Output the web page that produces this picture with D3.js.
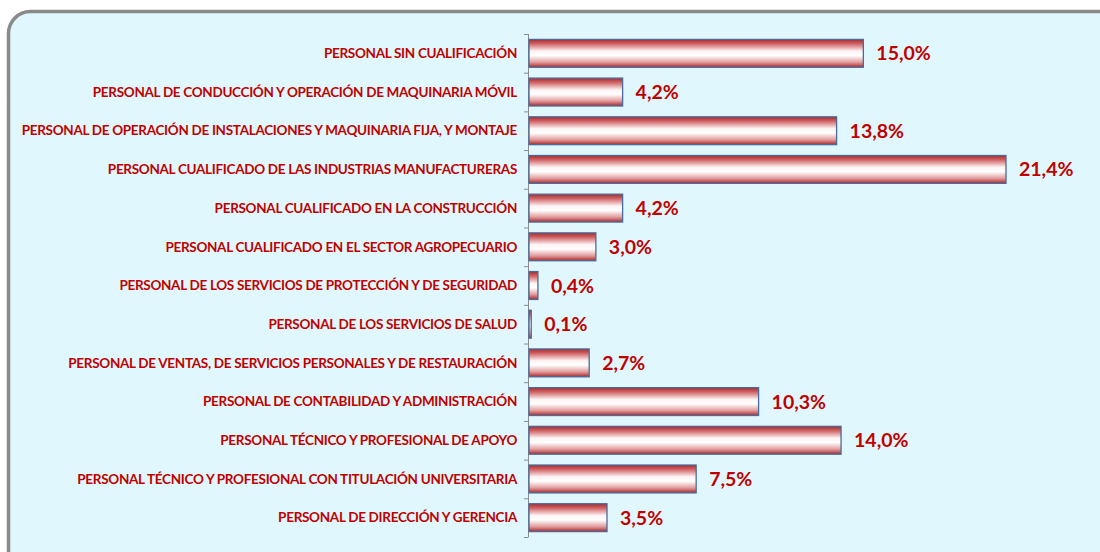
<!DOCTYPE html>
<html>
<head>
<meta charset="utf-8">
<script src="https://cdn.jsdelivr.net/npm/d3@7"></script>
<style>
  html, body { margin: 0; padding: 0; background: #fff; }
  svg { display: block; }
</style>
</head>
<body>
<svg id="chart" width="1100" height="552"></svg>
<script>
const categories = [
    'PERSONAL SIN CUALIFICACIÓN',
    'PERSONAL DE CONDUCCIÓN Y OPERACIÓN DE MAQUINARIA MÓVIL',
    'PERSONAL DE OPERACIÓN DE INSTALACIONES Y MAQUINARIA FIJA, Y MONTAJE',
    'PERSONAL CUALIFICADO DE LAS INDUSTRIAS MANUFACTURERAS',
    'PERSONAL CUALIFICADO EN LA CONSTRUCCIÓN',
    'PERSONAL CUALIFICADO EN EL SECTOR AGROPECUARIO',
    'PERSONAL DE LOS SERVICIOS DE PROTECCIÓN Y DE SEGURIDAD',
    'PERSONAL DE LOS SERVICIOS DE SALUD',
    'PERSONAL DE VENTAS, DE SERVICIOS PERSONALES Y DE RESTAURACIÓN',
    'PERSONAL DE CONTABILIDAD Y ADMINISTRACIÓN',
    'PERSONAL TÉCNICO Y PROFESIONAL DE APOYO',
    'PERSONAL TÉCNICO Y PROFESIONAL CON TITULACIÓN UNIVERSITARIA',
    'PERSONAL DE DIRECCIÓN Y GERENCIA'
];
const values = [15.0, 4.2, 13.8, 21.4, 4.2, 3.0, 0.4, 0.1, 2.7, 10.3, 14.0, 7.5, 3.5];

const svg = d3.select('#chart');
const red = '#c00000';

// panel background with rounded grey frame
svg.append('rect')
    .attr('x', 8.5).attr('y', 11.5)
    .attr('width', 1120).attr('height', 570)
    .attr('rx', 22).attr('ry', 22)
    .attr('fill', '#e0f8fd')
    .attr('stroke', '#8a8a8a')
    .attr('stroke-width', 3.5);

// red-white-red cylinder look for the bars
const defs = svg.append('defs');
const grad = defs.append('linearGradient')
    .attr('id', 'barGrad')
    .attr('x1', 0).attr('y1', 0).attr('x2', 0).attr('y2', 1);
grad.append('stop').attr('offset', '0%').attr('stop-color', '#a82a2c');
grad.append('stop').attr('offset', '15%').attr('stop-color', '#cf6062');
grad.append('stop').attr('offset', '42%').attr('stop-color', '#fdf3f3');
grad.append('stop').attr('offset', '58%').attr('stop-color', '#ffffff');
grad.append('stop').attr('offset', '82%').attr('stop-color', '#e29c9d');
grad.append('stop').attr('offset', '100%').attr('stop-color', '#a82a2c');

const x = d3.scaleLinear().domain([0, 21.4]).range([529, 1006]);
const y = d3.scaleBand().domain(categories).range([34, 537]).paddingInner(0.28).paddingOuter(0.14);

// axis line and ticks at band boundaries
const step = y.step();
const axisG = svg.append('g');
axisG.append('line')
    .attr('x1', 528.5).attr('x2', 528.5)
    .attr('y1', 34).attr('y2', 537)
    .attr('stroke', '#8c8c8c').attr('stroke-width', 1);
axisG.selectAll('line.tick')
    .data(d3.range(categories.length + 1))
    .enter().append('line')
    .attr('class', 'tick')
    .attr('x1', 524).attr('x2', 528.5)
    .attr('y1', i => 34 + i * step + 0.5)
    .attr('y2', i => 34 + i * step + 0.5)
    .attr('stroke', '#8c8c8c');

// category labels
svg.append('g').selectAll('text')
    .data(categories)
    .enter().append('text')
    .attr('x', 517)
    .attr('y', d => y(d) + y.bandwidth() / 2)
    .attr('dy', '0.35em')
    .attr('text-anchor', 'end')
    .attr('font-family', 'Lato, "Open Sans", sans-serif')
    .attr('font-weight', 'bold')
    .attr('font-size', 13.5)
    .attr('letter-spacing', -0.3)
    .attr('fill', red)
    .text(d => d);

// bars
svg.append('g').selectAll('rect')
    .data(values)
    .enter().append('rect')
    .attr('x', x(0))
    .attr('y', (d, i) => y(categories[i]))
    .attr('width', d => x(d) - x(0))
    .attr('height', y.bandwidth())
    .attr('fill', 'url(#barGrad)')
    .attr('stroke', '#4a6b9a')
    .attr('stroke-width', 1.3);

// value labels
svg.append('g').selectAll('text')
    .data(values)
    .enter().append('text')
    .attr('x', d => x(d) + 13)
    .attr('y', (d, i) => y(categories[i]) + y.bandwidth() / 2)
    .attr('dy', '0.36em')
    .attr('font-family', 'Lato, "Open Sans", sans-serif')
    .attr('font-weight', 'bold')
    .attr('font-size', 19.5)
    .attr('fill', red)
    .text(d => d.toFixed(1).replace('.', ',') + '%');
</script>
</body>
</html>
